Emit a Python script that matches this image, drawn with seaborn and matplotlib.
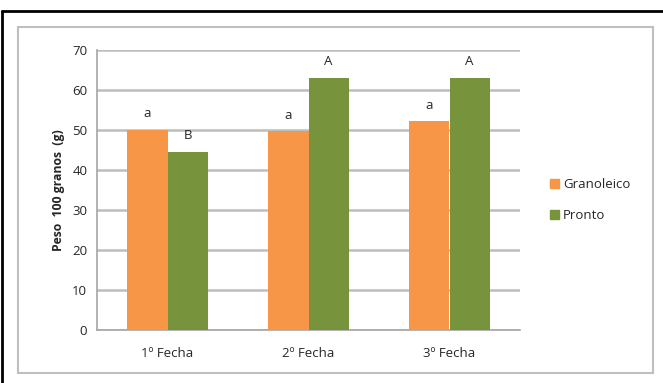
import matplotlib
matplotlib.use("Agg")
import matplotlib.pyplot as plt
from matplotlib.patches import Rectangle
from matplotlib.lines import Line2D
import seaborn as sns
import pandas as pd

fechas = ["1º Fecha", "2º Fecha", "3º Fecha"]
variedades = ["Granoleico", "Pronto"]
granoleico = [50.1, 49.7, 52.2]
pronto = [44.5, 63.0, 63.0]
letras_granoleico = ["a", "a", "a"]
letras_pronto = ["B", "A", "A"]
colores = ["#F79646", "#77933C"]

df = pd.DataFrame({
    "fecha": fechas * 2,
    "peso": granoleico + pronto,
    "variedad": [variedades[0]] * 3 + [variedades[1]] * 3,
})

sns.set_style("white")
plt.rcParams["font.family"] = ["Open Sans", "DejaVu Sans"]

fig = plt.figure(figsize=(6.63, 3.83), dpi=100)
ax = fig.add_axes([97 / 663, 1 - 330 / 383, (520 - 97) / 663, (330 - 50) / 383])

sns.barplot(data=df, x="fecha", y="peso", hue="variedad", palette=colores,
            width=0.57, gap=0, saturation=1, ax=ax, legend=False, zorder=3,
            linewidth=0)

ax.set_ylim(0, 70)
ax.set_xlim(-0.5, 2.5)
ax.set_yticks(range(0, 71, 10))
ax.yaxis.grid(True, color="#BDBDBD", linewidth=1.8, zorder=0)
ax.set_axisbelow(True)
for s in ["top", "right"]:
    ax.spines[s].set_visible(False)
for s in ["left", "bottom"]:
    ax.spines[s].set_color("#A6A6A6")
    ax.spines[s].set_linewidth(1.2)

ax.set_xticks([0, 1, 2])
ax.set_xticklabels(fechas, fontsize=9.5, color="#262626")
ax.set_xticks([0.5, 1.5, 2.5], minor=True)
ax.tick_params(axis="x", which="major", length=0, pad=12)
ax.tick_params(axis="x", which="minor", length=4, color="#A6A6A6", width=1)
ax.tick_params(axis="y", length=4, color="#A6A6A6", width=1, labelsize=9.5,
               labelcolor="#262626", pad=3)
ax.set_xlabel("")
ax.set_ylabel("Peso  100 granos  (g)", fontsize=8.8, fontweight="bold",
              color="#262626", labelpad=5)

# significance letters above each bar
for cont, letras in zip(ax.containers, [letras_granoleico, letras_pronto]):
    for bar, letra in zip(cont, letras):
        ax.text(bar.get_x() + bar.get_width() / 2, bar.get_height() + 2.4, letra,
                ha="center", va="bottom", fontsize=9.5, color="#262626")

handles = [Rectangle((0, 0), 1, 1, color=c) for c in colores]
fig.legend(handles, variedades, loc="upper left",
           bbox_to_anchor=(545 / 663, 1 - 173 / 383), frameon=False,
           fontsize=9.5, handlelength=0.65, handleheight=0.65,
           handletextpad=0.3, labelspacing=1.35, borderaxespad=0)
for t in fig.legends[0].get_texts():
    t.set_color("#262626")

# chart area frame and page border
fig.patches.append(Rectangle((18 / 663, 1 - 373 / 383), (653 - 18) / 663, (373 - 27) / 383,
                             transform=fig.transFigure, fill=False,
                             edgecolor="#BFBFBF", linewidth=1.5))
fig.lines.append(Line2D([2 / 663, 1], [1 - 11 / 383] * 2, transform=fig.transFigure,
                        color="black", linewidth=2))
fig.lines.append(Line2D([2 / 663] * 2, [0, 1 - 11 / 383], transform=fig.transFigure,
                        color="black", linewidth=2))

fig.savefig("out.png", dpi=100)
